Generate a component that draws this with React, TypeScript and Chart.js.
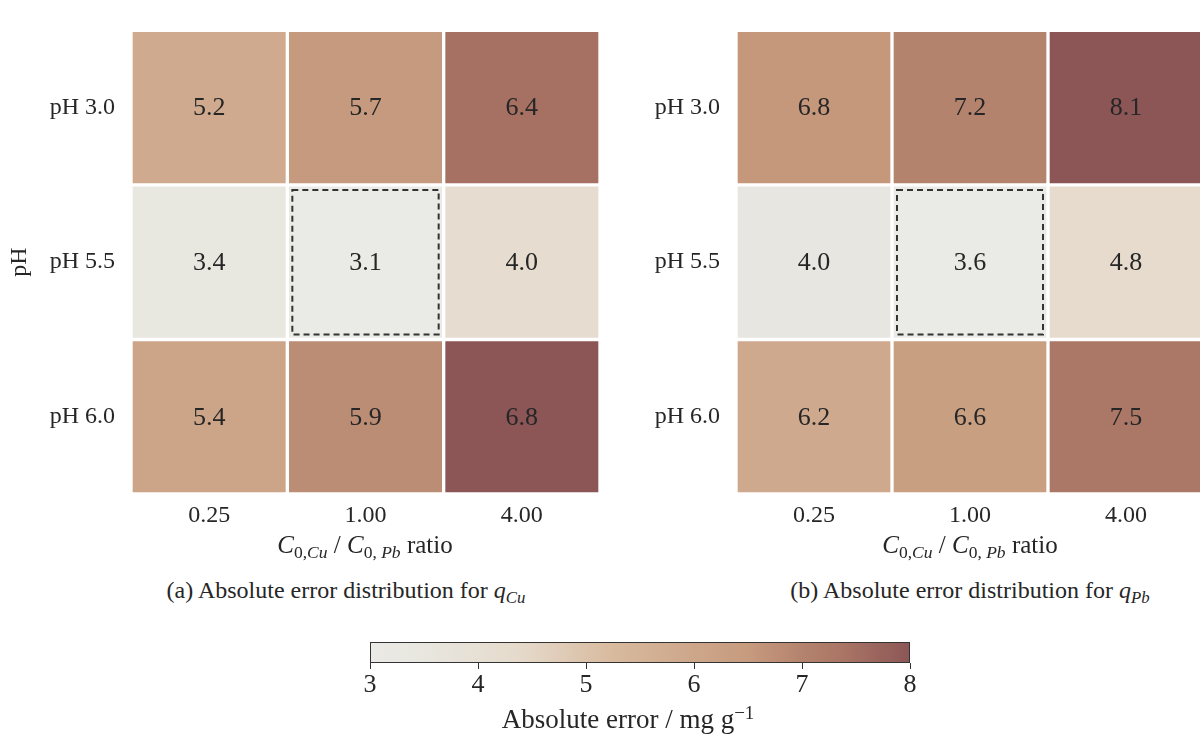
import React, { useEffect, useRef } from "react";
import { Chart, registerables } from "chart.js";

Chart.register(...registerables);

// ---------- data ----------
const ratioLabels = ["0.25", "1.00", "4.00"];
const phLabels = ["pH 3.0", "pH 5.5", "pH 6.0"];

// absolute error for q_Cu, rows = pH 3.0 / 5.5 / 6.0, columns = ratios
const errCuPH30 = [5.2, 5.7, 6.4];
const errCuPH55 = [3.4, 3.1, 4.0];
const errCuPH60 = [5.4, 5.9, 6.8];

// absolute error for q_Pb
const errPbPH30 = [6.8, 7.2, 8.1];
const errPbPH55 = [4.0, 3.6, 4.8];
const errPbPH60 = [6.2, 6.6, 7.5];

const errCu = [errCuPH30, errCuPH55, errCuPH60];
const errPb = [errPbPH30, errPbPH55, errPbPH60];

const colorbarTicks = [3, 4, 5, 6, 7, 8];
const colorbarMin = 3;
const colorbarMax = 8;

// ---------- styling ----------
const FONT = "'Liberation Serif', 'Times New Roman', serif";
const TEXT = "#262626";

const cmapStops: [number, [number, number, number]][] = [
  [0.0, [234, 234, 230]],
  [0.1, [232, 230, 223]],
  [0.27, [230, 219, 205]],
  [0.45, [216, 186, 158]],
  [0.6, [205, 166, 138]],
  [0.7, [199, 155, 126]],
  [0.8, [180, 131, 110]],
  [0.88, [169, 116, 100]],
  [1.0, [140, 86, 87]],
];

function cmap(t: number): string {
  const tt = Math.max(0, Math.min(1, t));
  for (let i = 1; i < cmapStops.length; i++) {
    const [t1, c1] = cmapStops[i];
    const [t0, c0] = cmapStops[i - 1];
    if (tt <= t1) {
      const f = (tt - t0) / (t1 - t0);
      const c = c0.map((v, k) => Math.round(v + (c1[k] - v) * f));
      return `rgb(${c[0]},${c[1]},${c[2]})`;
    }
  }
  const c = cmapStops[cmapStops.length - 1][1];
  return `rgb(${c[0]},${c[1]},${c[2]})`;
}

const valueLabelPlugin = {
  id: "valueLabels",
  afterDatasetsDraw(chart: any) {
    const { ctx } = chart;
    const values: number[][] = chart.options.plugins.valueLabels.values;
    // locate the minimum cell
    let minR = 0, minC = 0;
    values.forEach((row, r) =>
      row.forEach((v, c) => {
        if (v < values[minR][minC]) { minR = r; minC = c; }
      })
    );
    ctx.save();
    ctx.font = `26px ${FONT}`;
    ctx.fillStyle = TEXT;
    ctx.textAlign = "center";
    ctx.textBaseline = "middle";
    chart.data.datasets.forEach((_: any, r: number) => {
      const meta = chart.getDatasetMeta(r);
      meta.data.forEach((el: any, c: number) => {
        const p = el.getCenterPoint();
        ctx.fillText(values[r][c].toFixed(1), p.x, p.y + 1);
      });
    });
    // dashed highlight around the minimum cell
    const el: any = chart.getDatasetMeta(minR).data[minC];
    const left = el.x - el.width / 2;
    const right = el.x + el.width / 2;
    const top = Math.min(el.y, el.base);
    const bottom = Math.max(el.y, el.base);
    const inset = 5;
    ctx.strokeStyle = "#333333";
    ctx.lineWidth = 2;
    ctx.setLineDash([6, 4]);
    ctx.strokeRect(left + inset, top + inset, right - left - 2 * inset, bottom - top - 2 * inset);
    ctx.restore();
  },
};

type HeatProps = {
  values: number[][];
  left: number;
  width: number;
  yWidth: number;
  showYTitle: boolean;
};

function Heatmap({ values, left, width, yWidth, showYTitle }: HeatProps) {
  const ref = useRef<HTMLCanvasElement | null>(null);
  useEffect(() => {
    if (!ref.current) return;
    const flat = values.flat();
    const vmin = Math.min(...flat);
    const vmax = Math.max(...flat);
    const datasets = values.map((row, r) => ({
      label: phLabels[r],
      data: row.map(() => [r, r + 1]),
      backgroundColor: row.map((v) => cmap((v - vmin) / (vmax - vmin))),
      borderColor: "#ffffff",
      borderWidth: 2,
      borderSkipped: false,
      grouped: false,
      categoryPercentage: 1,
      barPercentage: 1,
    }));
    const chart = new Chart(ref.current, {
      type: "bar",
      data: { labels: ratioLabels, datasets: datasets as any },
      options: {
        responsive: false,
        animation: false,
        events: [],
        layout: { padding: { left: 0, right: 0, top: 24, bottom: 0 } },
        plugins: {
          legend: { display: false },
          tooltip: { enabled: false },
          valueLabels: { values },
        } as any,
        scales: {
          x: {
            type: "category",
            offset: true,
            grid: { display: false, drawTicks: false },
            border: { display: false },
            ticks: { font: { family: FONT, size: 24 }, color: TEXT, padding: 7, maxRotation: 0 },
            afterFit: (s: any) => { s.height = 40; },
          },
          y: {
            type: "linear",
            min: 0,
            max: 3,
            reverse: true,
            grid: { display: false, drawTicks: false },
            border: { display: false },
            afterBuildTicks: (s: any) => {
              s.ticks = phLabels.map((_, i) => ({ value: i + 0.5 }));
            },
            ticks: {
              font: { family: FONT, size: 24 },
              color: TEXT,
              padding: 16,
              callback: (v: any) => phLabels[Math.round(Number(v) - 0.5)],
            },
            title: {
              display: showYTitle,
              text: "pH",
              font: { family: FONT, size: 24 },
              color: TEXT,
              padding: { top: 5, bottom: 0 },
            },
            afterFit: (s: any) => { s.width = yWidth; },
          },
        },
      } as any,
      plugins: [valueLabelPlugin],
    });
    return () => chart.destroy();
  }, [values, left, width, yWidth, showYTitle]);
  return (
    <canvas
      ref={ref}
      width={width}
      height={534}
      style={{ position: "absolute", left, top: 0, width, height: 534 }}
    />
  );
}

const colorbarPlugin = {
  id: "colorbarFill",
  beforeDatasetsDraw(chart: any) {
    const { ctx, chartArea } = chart;
    const xs = chart.scales.x;
    const x0 = xs.getPixelForValue(colorbarMin);
    const x1 = xs.getPixelForValue(colorbarMax);
    const g = ctx.createLinearGradient(x0, 0, x1, 0);
    for (let i = 0; i <= 50; i++) g.addColorStop(i / 50, cmap(i / 50));
    ctx.save();
    ctx.fillStyle = g;
    ctx.fillRect(chartArea.left, chartArea.top, chartArea.right - chartArea.left, chartArea.bottom - chartArea.top);
    ctx.strokeStyle = "#333333";
    ctx.lineWidth = 1;
    ctx.strokeRect(chartArea.left + 0.5, chartArea.top + 0.5, chartArea.right - chartArea.left - 1, chartArea.bottom - chartArea.top - 1);
    ctx.restore();
  },
};

function Colorbar() {
  const ref = useRef<HTMLCanvasElement | null>(null);
  useEffect(() => {
    if (!ref.current) return;
    const chart = new Chart(ref.current, {
      type: "scatter",
      data: { datasets: [{ data: [], pointRadius: 0 }] },
      options: {
        responsive: false,
        animation: false,
        events: [],
        layout: { padding: { left: 30, right: 30, top: 12, bottom: 0 } },
        plugins: { legend: { display: false }, tooltip: { enabled: false } },
        scales: {
          x: {
            type: "linear",
            min: colorbarMin,
            max: colorbarMax,
            afterBuildTicks: (s: any) => {
              s.ticks = colorbarTicks.map((v) => ({ value: v }));
            },
            grid: { display: true, drawOnChartArea: false, drawTicks: true, tickLength: 6, color: "#333333" },
            border: { display: false },
            ticks: { font: { family: FONT, size: 26 }, color: TEXT, padding: 1, maxRotation: 0 },
            afterFit: (s: any) => { s.height = 40; },
          },
          y: { display: false, min: 0, max: 1 },
        },
      } as any,
      plugins: [colorbarPlugin],
    });
    return () => chart.destroy();
  }, []);
  return (
    <canvas
      ref={ref}
      width={600}
      height={73}
      style={{ position: "absolute", left: 340, top: 630, width: 600, height: 73 }}
    />
  );
}

const textBase: React.CSSProperties = {
  position: "absolute",
  fontFamily: FONT,
  color: TEXT,
  whiteSpace: "nowrap",
  transform: "translateX(-50%)",
  lineHeight: 1.2,
};

const sub: React.CSSProperties = { fontSize: "0.7em", position: "relative", top: "0.3em" };
const sup: React.CSSProperties = { fontSize: "0.7em", position: "relative", top: "-0.5em" };

function XTitle({ cx }: { cx: number }) {
  return (
    <div style={{ ...textBase, left: cx, top: 530, fontSize: 25 }}>
      <i>C</i>
      <span style={sub}>0,<i>Cu</i></span> / <i>C</i>
      <span style={sub}>0, <i>Pb</i></span> ratio
    </div>
  );
}

function Caption({ cx, tag, el }: { cx: number; tag: string; el: string }) {
  return (
    <div style={{ ...textBase, left: cx, top: 576, fontSize: 24 }}>
      ({tag}) Absolute error distribution for <i>q</i>
      <span style={sub}><i>{el}</i></span>
    </div>
  );
}

export default function App() {
  return (
    <div
      style={{
        position: "absolute",
        left: 0,
        top: 0,
        width: 1200,
        height: 740,
        overflow: "hidden",
        background: "#ffffff",
      }}
    >
      <Heatmap values={errCu} left={0} width={600} yWidth={131} showYTitle={true} />
      <Heatmap values={errPb} left={600} width={604} yWidth={136} showYTitle={false} />
      <XTitle cx={365} />
      <XTitle cx={970} />
      <Caption cx={346} tag="a" el="Cu" />
      <Caption cx={970} tag="b" el="Pb" />
      <Colorbar />
      <div style={{ ...textBase, left: 628, top: 703, fontSize: 27 }}>
        Absolute error / mg g<span style={sup}>−1</span>
      </div>
    </div>
  );
}
